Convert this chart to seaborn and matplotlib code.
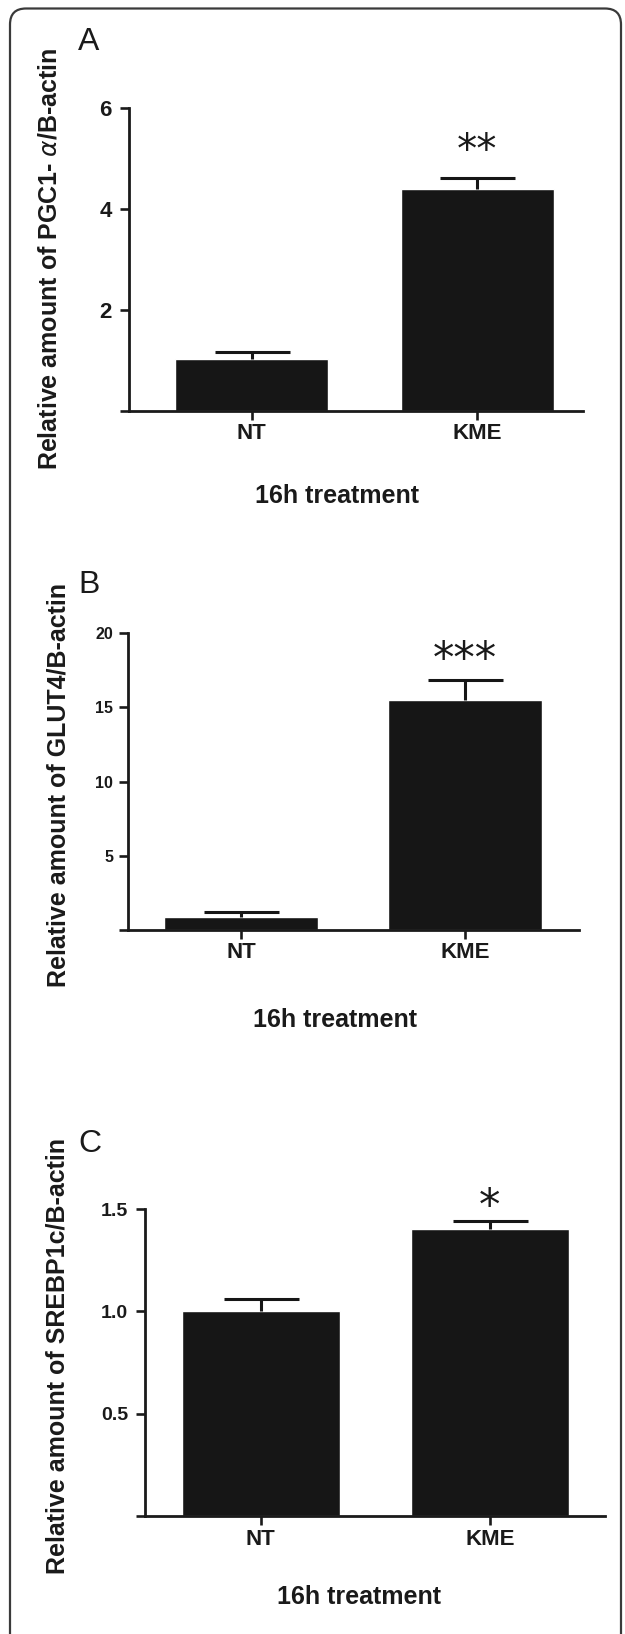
import numpy as np
import pandas as pd
import matplotlib
matplotlib.use("Agg")
import matplotlib.pyplot as plt
from matplotlib.patches import FancyBboxPatch
from matplotlib.transforms import IdentityTransform
import seaborn as sns

# ---------------- data ----------------
categories = ["NT", "KME"]
pgc1a_mean = [1.03, 4.40]
pgc1a_sem = [0.13, 0.20]
glut4_mean = [0.85, 15.53]
glut4_sem = [0.39, 1.34]
srebp1c_mean = [1.00, 1.403]
srebp1c_sem = [0.061, 0.039]
significance = ["**", "***", "*"]
panel_letters = ["A", "B", "C"]
ylabels = [r"Relative amount of PGC1- $\alpha$/B-actin",
           "Relative amount of GLUT4/B-actin",
           "Relative amount of SREBP1c/B-actin"]
xlabel_text = "16h treatment"
yticks_A = [0, 2, 4, 6]
ytick_labels_A = ["", "2", "4", "6"]
yticks_B = [0, 5, 10, 15, 20]
ytick_labels_B = ["", "5", "10", "15", "20"]
yticks_C = [0, 0.5, 1.0, 1.5]
ytick_labels_C = ["", "0.5", "1.0", "1.5"]

# ---------------- style ----------------
sns.set_style("ticks")
plt.rcParams["font.family"] = ["Liberation Sans", "DejaVu Sans"]
plt.rcParams["mathtext.fontset"] = "dejavusans"

W, H = 625, 1634
fig = plt.figure(figsize=(W / 100, H / 100), dpi=100)
BAR = "#161616"


def rect(left, right, top, bottom):
    return [left / W, 1 - bottom / H, (right - left) / W, (bottom - top) / H]


panels = [
    dict(mean=pgc1a_mean, sem=pgc1a_sem, yt=yticks_A, ytl=ytick_labels_A,
         rect=rect(129.3, 583, 107.8, 410.5), xlim=(-0.542, 1.469), ylim=(0, 6),
         width=0.677, ytfs=16, ytpad=6.2, xlab=(0.458, -0.282), ylab=(-0.175, 0.502),
         letter=(78, 50), star_fs=29, star_off=11.2),
    dict(mean=glut4_mean, sem=glut4_sem, yt=yticks_B, ytl=ytick_labels_B,
         rect=rect(128.3, 578.7, 633.3, 930), xlim=(-0.502, 1.506), ylim=(0, 20),
         width=0.684, ytfs=11.5, ytpad=4.3, xlab=(0.459, -0.303), ylab=(-0.156, 0.490),
         letter=(78, 593.4), star_fs=31, star_off=5.6),
    dict(mean=srebp1c_mean, sem=srebp1c_sem, yt=yticks_C, ytl=ytick_labels_C,
         rect=rect(145, 605, 1209, 1516.3), xlim=(-0.505, 1.502), ylim=(0, 1.5),
         width=0.69, ytfs=14, ytpad=5.5, xlab=(0.465, -0.263), ylab=(-0.191, 0.522),
         letter=(78, 1152.5), star_fs=31, star_off=1.3),
]

for i, p in enumerate(panels):
    ax = fig.add_axes(p["rect"])
    df = pd.DataFrame({"group": categories, "value": p["mean"]})
    sns.barplot(data=df, x="group", y="value", ax=ax, color=BAR, saturation=1,
                width=p["width"], errorbar=None, zorder=2)
    means = np.array(p["mean"])
    eb = ax.errorbar(x=np.arange(len(categories)), y=means,
                     yerr=[np.zeros(len(categories)), p["sem"]], fmt="none",
                     ecolor=BAR, elinewidth=2.2, capsize=27, capthick=2.2, zorder=3)
    # hide the lower (zero-length) cap that would sit on the bar top
    for cl in eb[1]:
        yd = np.asarray(cl.get_ydata(), dtype=float)
        if np.allclose(yd, means):
            cl.set_visible(False)
    ax.set_xlim(*p["xlim"])
    ax.set_ylim(*p["ylim"])
    ax.set_yticks(p["yt"])
    ax.set_yticklabels(p["ytl"])
    sns.despine(ax=ax)
    for s in ["left", "bottom"]:
        ax.spines[s].set_linewidth(2.0)
        ax.spines[s].set_color("#1a1a1a")
    ax.tick_params(axis="y", length=6.5, width=1.9, color="#1a1a1a",
                   labelsize=p["ytfs"], pad=p["ytpad"])
    ax.tick_params(axis="x", length=6.5, width=1.9, color="#1a1a1a",
                   labelsize=16, pad=2.5)
    for lab in ax.get_yticklabels() + ax.get_xticklabels():
        lab.set_fontweight("bold")
        lab.set_color("#1a1a1a")

    ax.set_xlabel(xlabel_text, fontsize=18, fontweight="bold", color="#1a1a1a")
    ax.xaxis.label.set_va("center")
    ax.xaxis.set_label_coords(*p["xlab"])
    ax.set_ylabel(ylabels[i], fontsize=18, fontweight="bold", color="#1a1a1a")
    ax.yaxis.label.set_va("center")
    ax.yaxis.set_label_coords(*p["ylab"])

    top = means + np.array(p["sem"])
    ax.annotate(significance[i], xy=(1, top[1]), xytext=(0, p["star_off"]),
                textcoords="offset points", ha="center", va="baseline",
                fontsize=p["star_fs"], family="DejaVu Sans", color="#1a1a1a",
                annotation_clip=False)

    lx, ly = p["letter"]
    fig.text(lx / W, 1 - ly / H, panel_letters[i], fontsize=23,
             ha="left", va="baseline", color="#1a1a1a")

border = FancyBboxPatch((10, -30), 611, H - 8.5 + 30,
                        boxstyle="round,pad=0,rounding_size=16",
                        transform=IdentityTransform(), fill=False,
                        lw=1.6, ec="#3a3a3a")
fig.add_artist(border)

fig.savefig("out.png", dpi=100)
